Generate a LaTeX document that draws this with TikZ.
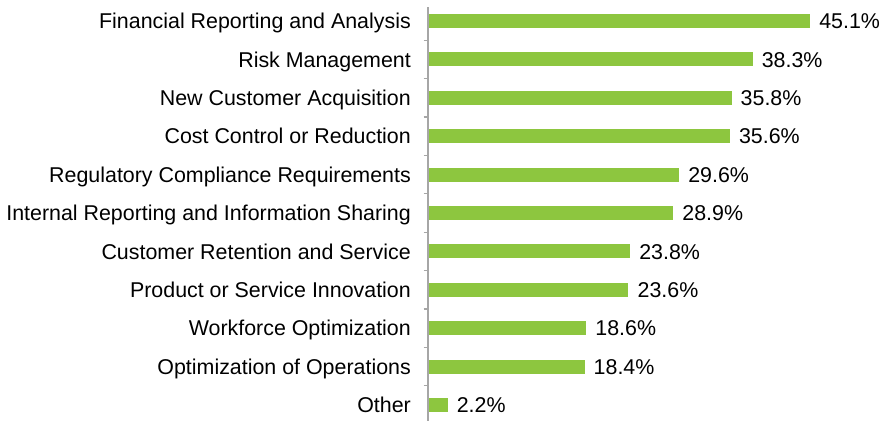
\documentclass[tikz,border=0pt]{standalone}
\usepackage{fontspec}
\setmainfont{Liberation Sans}
\definecolor{bargreen}{HTML}{8DC63F}
\definecolor{axisgray}{HTML}{A6A6A6}

\begin{document}
\begin{tikzpicture}[x=1pt,y=-1pt]
\tikzset{every node/.style={inner sep=0pt,text height=15.3pt,text depth=0pt,font=\fontsize{21.4}{24}\selectfont},
  bar/.style={fill=bargreen,draw=none},
  catlabel/.style={anchor=east},
  vallabel/.style={anchor=west}}
\useasboundingbox (0,0) rectangle (886,421);
% axis and ticks
\draw [axisgray,line width=1.3pt] (428,7) -- (428,421);
\foreach \t in {1,...,10} \draw [axisgray,line width=1.3pt] (423.5,1.8+38.4*\t) -- (428,1.8+38.4*\t);
% bars
\fill [bar] (429,14) rectangle (810.1,28);
\node [catlabel] (c1) at (411,21) {Financial Reporting and Analysis};
\node [vallabel] (v1) at (819.1,21) {45.1\%};
\fill [bar] (429,52.4) rectangle (752.6,66.4);
\node [catlabel] (c2) at (411,59.4) {Risk Management};
\node [vallabel] (v2) at (761.6,59.4) {38.3\%};
\fill [bar] (429,90.8) rectangle (731.5,104.8);
\node [catlabel] (c3) at (411,97.8) {New Customer Acquisition};
\node [vallabel] (v3) at (740.5,97.8) {35.8\%};
\fill [bar] (429,129.2) rectangle (729.8,143.2);
\node [catlabel] (c4) at (411,136.2) {Cost Control or Reduction};
\node [vallabel] (v4) at (738.8,136.2) {35.6\%};
\fill [bar] (429,167.6) rectangle (679.1,181.6);
\node [catlabel] (c5) at (411,174.6) {Regulatory Compliance Requirements};
\node [vallabel] (v5) at (688.1,174.6) {29.6\%};
\fill [bar] (429,206) rectangle (673.2,220);
\node [catlabel] (c6) at (411,213) {Internal Reporting and Information Sharing};
\node [vallabel] (v6) at (682.2,213) {28.9\%};
\fill [bar] (429,244.4) rectangle (630.1,258.4);
\node [catlabel] (c7) at (411,251.4) {Customer Retention and Service};
\node [vallabel] (v7) at (639.1,251.4) {23.8\%};
\fill [bar] (429,282.8) rectangle (628.4,296.8);
\node [catlabel] (c8) at (411,289.8) {Product or Service Innovation};
\node [vallabel] (v8) at (637.4,289.8) {23.6\%};
\fill [bar] (429,321.2) rectangle (586.2,335.2);
\node [catlabel] (c9) at (411,328.2) {Workforce Optimization};
\node [vallabel] (v9) at (595.2,328.2) {18.6\%};
\fill [bar] (429,359.6) rectangle (584.5,373.6);
\node [catlabel] (c10) at (411,366.6) {Optimization of Operations};
\node [vallabel] (v10) at (593.5,366.6) {18.4\%};
\fill [bar] (429,398) rectangle (447.6,412);
\node [catlabel] (c11) at (411,405) {Other};
\node [vallabel] (v11) at (456.6,405) {2.2\%};
\end{tikzpicture}
\end{document}
